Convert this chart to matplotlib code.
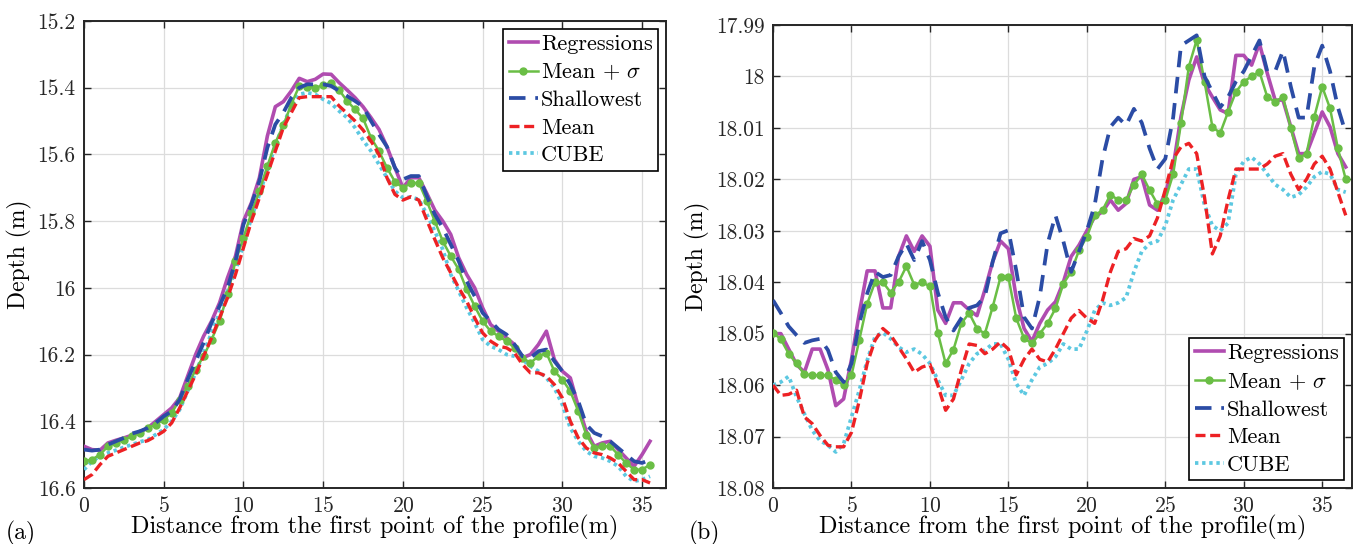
import matplotlib

matplotlib.use("Agg")
import matplotlib.pyplot as plt
import matplotlib.ticker as mticker
import numpy as np

# ── Style ─────────────────────────────────────────────────────────────────────
plt.rcParams["font.family"] = ["cmr10", "DejaVu Serif"]
plt.rcParams["mathtext.fontset"] = "cm"
plt.rcParams["axes.formatter.use_mathtext"] = True

C_REG = "#B04CB0"
C_MSD = "#6ABE45"
C_SHA = "#2B4CA5"
C_MEAN = "#ED2124"
C_CUBE = "#5CC8E1"
FS_TICK = 15.5
FS_LAB = 17
FS_XLAB = 17.5
FS_LEG = 16

LABELS = ["Regressions", r"Mean + $\sigma$", "Shallowest", "Mean", "CUBE"]

# ── Data: panel (a) ───────────────────────────────────────────────────────────
dist_a = np.arange(0, 36, 0.5)
reg_a = [16.475, 16.485, 16.487, 16.465, 16.457, 16.45, 16.442, 16.432, 16.42, 16.40,
         16.38, 16.36, 16.33, 16.265, 16.20, 16.145, 16.10, 16.045, 15.97, 15.905,
         15.80, 15.745, 15.67, 15.545, 15.457, 15.442, 15.41, 15.372, 15.382, 15.375,
         15.359, 15.36, 15.385, 15.407, 15.43, 15.457, 15.49, 15.525, 15.577, 15.64,
         15.70, 15.67, 15.67, 15.717, 15.767, 15.80, 15.84, 15.91, 15.96, 16.0,
         16.06, 16.11, 16.13, 16.15, 16.17, 16.21, 16.2, 16.17, 16.13, 16.215,
         16.25, 16.27, 16.355, 16.43, 16.475, 16.465, 16.46, 16.485, 16.51, 16.535,
         16.50, 16.46]
msd_a = [16.52, 16.515, 16.50, 16.475, 16.465, 16.455, 16.445, 16.435, 16.42, 16.41,
         16.395, 16.375, 16.335, 16.295, 16.245, 16.205, 16.155, 16.10, 16.02, 15.92,
         15.85, 15.775, 15.71, 15.635, 15.565, 15.513, 15.45, 15.395, 15.397, 15.40,
         15.393, 15.385, 15.407, 15.44, 15.465, 15.492, 15.55, 15.59, 15.64, 15.682,
         15.70, 15.687, 15.685, 15.74, 15.80, 15.86, 15.905, 15.945, 16.005, 16.055,
         16.10, 16.13, 16.145, 16.16, 16.18, 16.21, 16.225, 16.205, 16.195, 16.25,
         16.275, 16.31, 16.37, 16.44, 16.48, 16.475, 16.475, 16.50, 16.525, 16.545,
         16.545, 16.53]
sha_a = [16.485, 16.488, 16.485, 16.47, 16.46, 16.45, 16.437, 16.43, 16.42, 16.405,
         16.385, 16.37, 16.335, 16.275, 16.22, 16.165, 16.105, 16.055, 16.0, 15.92,
         15.81, 15.75, 15.68, 15.58, 15.51, 15.475, 15.43, 15.40, 15.39, 15.39,
         15.39, 15.395, 15.41, 15.425, 15.44, 15.457, 15.50, 15.54, 15.577, 15.64,
         15.675, 15.665, 15.665, 15.725, 15.78, 15.82, 15.87, 15.92, 15.98, 16.025,
         16.075, 16.10, 16.125, 16.14, 16.17, 16.205, 16.21, 16.19, 16.185, 16.22,
         16.25, 16.29, 16.34, 16.41, 16.435, 16.445, 16.46, 16.48, 16.50, 16.52,
         16.525, 16.515]
mean_a = [16.575, 16.56, 16.53, 16.505, 16.495, 16.485, 16.475, 16.465, 16.458, 16.445,
          16.43, 16.405, 16.36, 16.31, 16.26, 16.205, 16.15, 16.09, 16.03, 15.96,
          15.88, 15.80, 15.73, 15.66, 15.59, 15.52, 15.475, 15.43, 15.427, 15.427,
          15.427, 15.427, 15.455, 15.477, 15.50, 15.527, 15.56, 15.60, 15.67, 15.72,
          15.737, 15.727, 15.737, 15.797, 15.855, 15.91, 15.955, 16.0, 16.04, 16.09,
          16.135, 16.16, 16.175, 16.18, 16.195, 16.23, 16.255, 16.255, 16.265, 16.29,
          16.33, 16.40, 16.45, 16.48, 16.495, 16.50, 16.51, 16.525, 16.55, 16.575,
          16.575, 16.585]
cube_a = [16.545, 16.52, 16.505, 16.495, 16.487, 16.478, 16.47, 16.462, 16.455, 16.44,
          16.425, 16.40, 16.365, 16.31, 16.255, 16.195, 16.135, 16.075, 16.01, 15.95,
          15.87, 15.79, 15.72, 15.645, 15.575, 15.51, 15.455, 15.42, 15.415, 15.42,
          15.435, 15.447, 15.47, 15.49, 15.52, 15.557, 15.59, 15.63, 15.67, 15.71,
          15.73, 15.728, 15.735, 15.78, 15.83, 15.885, 15.96, 16.01, 16.06, 16.105,
          16.155, 16.175, 16.185, 16.20, 16.205, 16.215, 16.235, 16.25, 16.27, 16.30,
          16.35, 16.42, 16.46, 16.49, 16.505, 16.51, 16.52, 16.535, 16.565, 16.58,
          16.575, 16.565]

# ── Data: panel (b) ───────────────────────────────────────────────────────────
dist_b = np.arange(0, 37, 0.5)
reg_b = [18.050, 18.050, 18.053, 18.056, 18.0575, 18.053, 18.053, 18.057, 18.064, 18.0627,
         18.055, 18.046, 18.0378, 18.0378, 18.045, 18.045, 18.035, 18.031, 18.034, 18.031,
         18.033, 18.0454, 18.048, 18.044, 18.044, 18.0454, 18.0465, 18.0415, 18.036, 18.032,
         18.0335, 18.043, 18.049, 18.0515, 18.048, 18.0454, 18.0438, 18.040, 18.035, 18.0328,
         18.030, 18.0273, 18.0263, 18.024, 18.026, 18.0247, 18.020, 18.0195, 18.025, 18.026,
         18.0227, 18.0176, 18.0078, 18.0007, 17.9962, 18.0014, 18.004, 18.0065, 18.0072, 17.9959,
         17.9959, 17.9978, 17.9936, 17.9994, 18.0046, 18.0046, 18.0098, 18.015, 18.015, 18.011,
         18.0069, 18.0098, 18.015, 18.0176]
msd_b = [18.0498, 18.0511, 18.0539, 18.0558, 18.0579, 18.0581, 18.0581, 18.0581, 18.059, 18.060,
         18.0581, 18.0512, 18.0442, 18.040, 18.040, 18.042, 18.040, 18.0369, 18.0405, 18.040,
         18.0408, 18.0498, 18.0558, 18.0531, 18.048, 18.046, 18.049, 18.050, 18.0448, 18.039,
         18.039, 18.047, 18.0509, 18.0519, 18.050, 18.048, 18.0451, 18.0403, 18.038, 18.0338,
         18.0312, 18.027, 18.026, 18.023, 18.024, 18.024, 18.0211, 18.019, 18.0221, 18.0248,
         18.024, 18.019, 18.0091, 17.9981, 17.9929, 18.001, 18.0098, 18.011, 18.0069, 18.003,
         18.001, 18.000, 17.9991, 18.004, 18.0049, 18.004, 18.0101, 18.0159, 18.015, 18.0078,
         18.002, 18.0062, 18.014, 18.020]
sha_b = [18.0435, 18.046, 18.0486, 18.0503, 18.0518, 18.0513, 18.051, 18.0532, 18.0575, 18.0594,
         18.0558, 18.048, 18.0422, 18.038, 18.039, 18.0386, 18.035, 18.0325, 18.0357, 18.032,
         18.0357, 18.042, 18.0468, 18.0494, 18.047, 18.045, 18.0445, 18.0428, 18.036, 18.0305,
         18.0299, 18.0377, 18.0468, 18.049, 18.0428, 18.0325, 18.027, 18.032, 18.038, 18.034,
         18.030, 18.025, 18.016, 18.0098, 18.008, 18.0095, 18.0063, 18.009, 18.014, 18.018,
         18.016, 18.008, 17.994, 17.993, 17.992, 18.000, 18.003, 18.006, 18.004, 18.001,
         17.999, 17.996, 17.993, 17.999, 17.999, 17.995, 18.002, 18.008, 18.008, 17.998,
         17.994, 17.999, 18.006, 18.011]
mean_b = [18.060, 18.062, 18.0618, 18.061, 18.0662, 18.0675, 18.0698, 18.0717, 18.072, 18.072,
          18.0692, 18.063, 18.0558, 18.0513, 18.049, 18.0503, 18.0526, 18.0549, 18.0575, 18.0565,
          18.0560, 18.0600, 18.0649, 18.0627, 18.0571, 18.052, 18.0523, 18.0539, 18.053, 18.0516,
          18.053, 18.058, 18.055, 18.053, 18.055, 18.0555, 18.053, 18.050, 18.047, 18.0455,
          18.047, 18.048, 18.0435, 18.038, 18.034, 18.0335, 18.0315, 18.032, 18.031, 18.0275,
          18.022, 18.016, 18.0137, 18.013, 18.015, 18.0235, 18.0345, 18.031, 18.024, 18.018,
          18.018, 18.018, 18.018, 18.017, 18.0155, 18.015, 18.019, 18.022, 18.020, 18.017,
          18.0155, 18.018, 18.0225, 18.027]
cube_b = [18.060, 18.0594, 18.0583, 18.0623, 18.0656, 18.0688, 18.0708, 18.0717, 18.073, 18.0714,
          18.0662, 18.061, 18.0552, 18.0506, 18.0498, 18.051, 18.0526, 18.0536, 18.053, 18.054,
          18.0558, 18.059, 18.062, 18.062, 18.059, 18.0558, 18.0539, 18.0532, 18.052, 18.052,
          18.055, 18.0597, 18.062, 18.059, 18.0565, 18.0558, 18.0545, 18.052, 18.053, 18.053,
          18.0495, 18.0455, 18.044, 18.0445, 18.044, 18.043, 18.038, 18.034, 18.0325, 18.032,
          18.029, 18.024, 18.021, 18.018, 18.018, 18.025, 18.029, 18.030, 18.0285, 18.019,
          18.0165, 18.0157, 18.017, 18.019, 18.021, 18.022, 18.0235, 18.023, 18.0215, 18.0195,
          18.0185, 18.019, 18.022, 18.0225]

a_ticks = [15.2, 15.4, 15.6, 15.8, 16.0, 16.2, 16.4, 16.6]
b_ticks = [17.99, 18.0, 18.01, 18.02, 18.03, 18.04, 18.05, 18.06, 18.07, 18.08]
x_ticks = [0, 5, 10, 15, 20, 25, 30, 35]

# ── Figure ────────────────────────────────────────────────────────────────────
fig = plt.figure(figsize=(13.55, 5.44), dpi=100, facecolor="white")
ax_a = fig.add_axes([0.062, 0.103, 0.4295, 0.8585])
ax_b = fig.add_axes([0.5705, 0.103, 0.4273, 0.851])


def draw(ax, x, reg, msd, sha, mean, cube):
    ax.plot(x, reg, color=C_REG, lw=2.6, label=LABELS[0], zorder=3)
    ax.plot(x, msd, color=C_MSD, lw=1.8, marker="o", ms=5, label=LABELS[1], zorder=4)
    ax.plot(x, sha, color=C_SHA, lw=2.7, ls=(0, (4.4, 2.6)), label=LABELS[2], zorder=5)
    ax.plot(x, mean, color=C_MEAN, lw=2.4, ls=(0, (3.0, 1.4)), label=LABELS[3], zorder=4)
    ax.plot(x, cube, color=C_CUBE, lw=2.7, ls=(0, (0.9, 1.0)), label=LABELS[4], zorder=3)


def style(ax, yticks, xmax):
    ax.set_xlim(0, xmax)
    ax.set_ylim(yticks[-1], yticks[0])
    ax.set_yticks(yticks)
    ax.set_xticks(x_ticks)
    ax.yaxis.set_major_formatter(mticker.FormatStrFormatter("%g"))
    ax.grid(True, color="#dcdcdc", lw=0.9)
    ax.set_axisbelow(True)
    ax.tick_params(direction="in", length=5, width=1.0, top=True, right=True,
                   labelsize=FS_TICK, pad=6, colors="#262626")
    for s in ax.spines.values():
        s.set_linewidth(1.4)
        s.set_color("#262626")
    ax.set_ylabel("Depth (m)", fontsize=FS_LAB, labelpad=4)
    ax.set_xlabel("Distance from the first point of the profile(m)", fontsize=FS_XLAB, labelpad=-1)


def legend(ax, loc):
    leg = ax.legend(loc=loc, fontsize=FS_LEG, frameon=True, fancybox=False, edgecolor="black",
                    framealpha=1, handlelength=1.3, handletextpad=0.15, borderpad=0.25,
                    labelspacing=0.36, borderaxespad=0.35)
    leg.get_frame().set_linewidth(1.2)


draw(ax_a, dist_a, reg_a, msd_a, sha_a, mean_a, cube_a)
style(ax_a, a_ticks, 36.5)
legend(ax_a, "upper right")

draw(ax_b, dist_b, reg_b, msd_b, sha_b, mean_b, cube_b)
style(ax_b, b_ticks, 36.9)
legend(ax_b, "lower right")

fig.text(0.004, 0.008, "(a)", fontsize=FS_LAB)
fig.text(0.508, 0.008, "(b)", fontsize=FS_LAB)

fig.savefig("out.png", dpi=100, facecolor="white")
